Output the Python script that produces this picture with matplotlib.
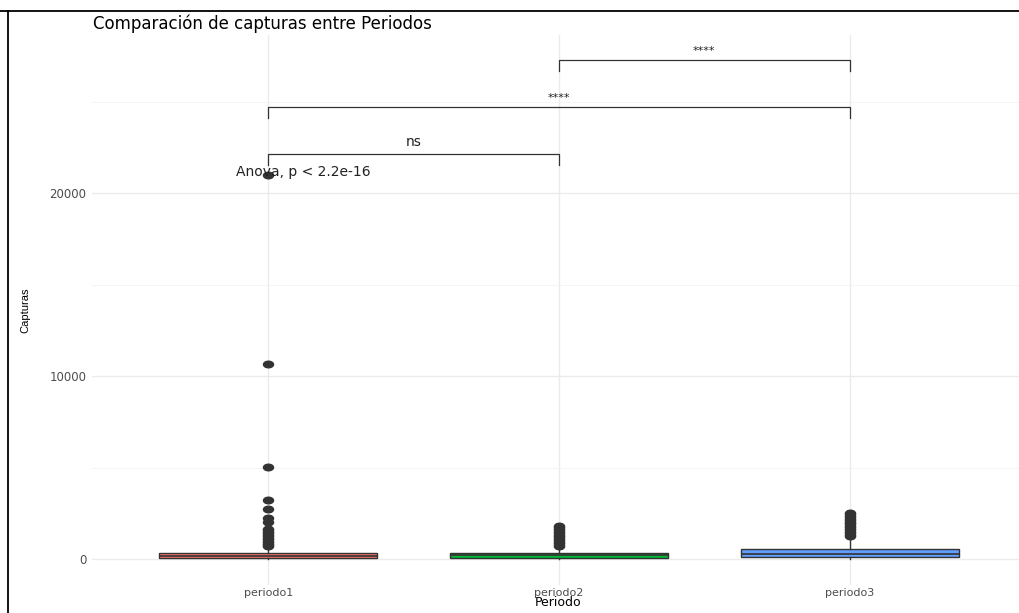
import matplotlib.pyplot as plt
from matplotlib.lines import Line2D
from matplotlib.markers import MarkerStyle
from matplotlib.transforms import Affine2D

# Boxplot statistics
periodos = ['periodo1', 'periodo2', 'periodo3']
q1 = [40, 40, 90]
medianas = [180, 200, 260]
q3 = [340, 340, 550]
bigote_inf = [0, 0, 0]
bigote_sup = [670, 650, 1150]
atipicos = [
    [21000, 10650, 5040, 3220, 2730, 2260, 2020, 1640, 1560, 1480, 1400,
     1320, 1240, 1160, 1080, 1000, 920, 840, 760, 700],
    [1820, 1740, 1660, 1580, 1500, 1420, 1340, 1260, 1180, 1100, 1020,
     940, 860, 780, 700],
    [2530, 2450, 2370, 2290, 2210, 2130, 2050, 1970, 1890, 1810, 1730,
     1650, 1570, 1490, 1410, 1330, 1250],
]
colores = ['#F8766D', '#00BA38', '#619CFF']

# Pairwise comparisons: (group a, group b, label, bracket height)
comp_a = [1, 1, 2]
comp_b = [2, 3, 3]
comp_lab = ['ns', '****', '****']
comp_y = [22150, 24700, 27270]
anova_txt = 'Anova, p < 2.2e-16'
anova_y = 21150

plt.rcParams['font.family'] = ['DejaVu Sans']

fig = plt.figure(figsize=(10.2, 6.13), dpi=100)
ax = fig.add_axes([92 / 1020, 1 - 585 / 613, 932 / 1020, 550 / 613])

stats = []
for i in range(3):
    stats.append(dict(q1=q1[i], med=medianas[i], q3=q3[i], whislo=bigote_inf[i],
                      whishi=bigote_sup[i], fliers=atipicos[i], label=periodos[i]))

# the reference screenshot is stretched sideways, so the points are flat ellipses
punto = MarkerStyle('o', transform=Affine2D().scale(1.45, 0.95))

bp = ax.bxp(stats, positions=[1, 2, 3], widths=0.75, patch_artist=True,
            showfliers=True,
            boxprops=dict(edgecolor='#333333', linewidth=1.0),
            medianprops=dict(color='#333333', linewidth=1.2),
            whiskerprops=dict(color='#333333', linewidth=1.0),
            capprops=dict(linewidth=0),
            flierprops=dict(marker=punto, markersize=5, markerfacecolor='#333333',
                            markeredgecolor='#333333'))
for patch, c in zip(bp['boxes'], colores):
    patch.set_facecolor(c)
for b in bp['boxes'] + bp['medians'] + bp['whiskers'] + bp['fliers']:
    b.set_zorder(3)

# Brackets
tick = 600
for a, b, lab, y in zip(comp_a, comp_b, comp_lab, comp_y):
    ax.plot([a, a, b, b], [y - tick, y, y, y - tick], color='#333333', lw=0.9, zorder=4)
    fs = 10 if lab == 'ns' else 8
    ax.text((a + b) / 2, y + 250, lab, ha='center', va='bottom', fontsize=fs, color='#222222')

ax.text(0.89, anova_y, anova_txt, ha='left', va='center', fontsize=10, color='#222222', zorder=5)

ax.set_xlim(0.393, 3.6)
ax.set_ylim(-1420, 28650)
ax.set_yticks([0, 10000, 20000])
ax.set_yticks([5000, 15000, 25000], minor=True)
ax.set_xticks([1, 2, 3])
ax.set_xticklabels(periodos)
ax.grid(True, which='major', color='#EBEBEB', lw=1.0)
ax.grid(True, which='minor', axis='y', color='#F2F2F2', lw=0.6)
ax.set_axisbelow(True)
for s in ax.spines.values():
    s.set_visible(False)
ax.tick_params(axis='y', which='both', length=0, labelsize=8.5, labelcolor='#4D4D4D', pad=4)
ax.tick_params(axis='x', which='both', length=0, labelsize=8, labelcolor='#4D4D4D', pad=2)

ax.set_xlabel('Periodo', fontsize=9, labelpad=-1)
ax.set_ylabel('Capturas', fontsize=8, labelpad=14,
              family=['Liberation Sans Narrow', 'Liberation Sans', 'DejaVu Sans'])
fig.text(93 / 1020, 1 - 24 / 613, 'Comparación de capturas entre Periodos',
         fontsize=12, ha='left', va='center', color='black')

# screenshot frame
fig.add_artist(Line2D([0, 1], [1 - 10.5 / 613] * 2, transform=fig.transFigure, color='black', lw=1.3))
fig.add_artist(Line2D([8.5 / 1020] * 2, [0, 1 - 10.5 / 613], transform=fig.transFigure, color='black', lw=1.3))

fig.savefig('out.png', dpi=100)
